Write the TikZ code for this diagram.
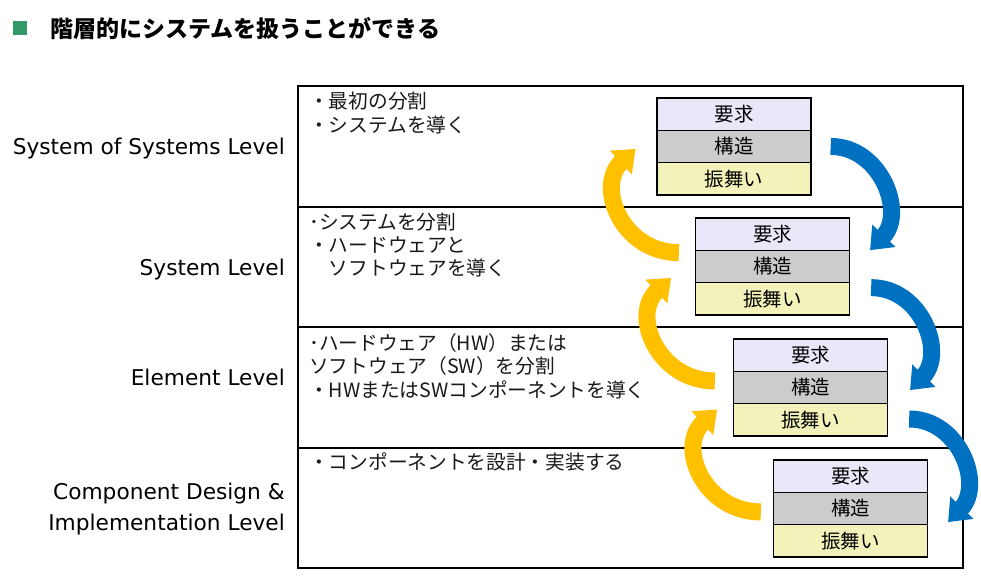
\documentclass[tikz,border=0pt]{standalone}
\usepackage{fontspec}
\newfontfamily\jp{Noto Sans CJK JP}
\newfontfamily\lat{DejaVu Sans}
\usetikzlibrary{arrows.meta,calc}
\definecolor{reqc}{RGB}{232,232,248}
\definecolor{strc}{RGB}{204,204,204}
\definecolor{behc}{RGB}{242,242,186}
\definecolor{bluec}{RGB}{0,112,192}
\definecolor{yelc}{RGB}{255,192,0}
\definecolor{titgreen}{RGB}{51,153,102}
\begin{document}
\begin{tikzpicture}[x=1pt,y=-1pt,
  rowbox/.style={draw=black,line width=1.3pt,minimum width=154pt,minimum height=32.3pt,inner sep=0pt,font=\jp\fontsize{19.5}{22}\selectfont},
  reqbox/.style={rowbox,fill=reqc},
  strbox/.style={rowbox,fill=strc},
  behbox/.style={rowbox,fill=behc},
  lvl/.style={anchor=base east,inner sep=0pt,font=\lat\fontsize{21.7}{26}\selectfont},
  body/.style={anchor=base west,inner sep=0pt,font=\jp\fontsize{19.7}{24}\selectfont,text=black!90},
  framel/.style={draw=black,line width=1.1pt},
  barrow/.style={draw=bluec,line width=17pt,line cap=butt,-{Triangle[length=20pt,width=31pt]}},
  yarrow/.style={draw=yelc,line width=17pt,line cap=butt,-{Triangle[length=20pt,width=31pt]}}]
\useasboundingbox (0,0) rectangle (981,580);
\fill[white] (0,0) rectangle (981,580);
% title
\node[fill=titgreen,minimum size=14pt,inner sep=0pt] (sq) at (20,28) {};
\node[anchor=base west,inner sep=0pt,font=\jp\bfseries\fontsize{23}{28}\selectfont] (title) at (50,37.5) {階層的にシステムを扱うことができる};
% frame
\draw[framel] (298,86) rectangle (963,568);
\draw[framel] (298,207) -- (963,207);
\draw[framel] (298,327) -- (963,327);
\draw[framel] (298,448) -- (963,448);
% level labels
\node[lvl] (l1) at (285,154.3) {System of Systems Level};
\node[lvl] (l2) at (285,275) {System Level};
\node[lvl] (l3) at (285,385.5) {Element Level};
\node[lvl] (l4a) at (285,499) {Component Design \&};
\node[lvl] (l4b) at (285,530) {Implementation Level};
% body texts
\node[body] (t1a) at (309,109) {・最初の分割};
\node[body] (t1b) at (309,132.5) {・システムを導く};
\node[body] (t2a) at (309,229.5) {･システムを分割};
\node[body] (t2b) at (309,252.5) {・ハードウェアと};
\node[body] (t2c) at (309,275.5) {　ソフトウェアを導く};
\node[body] (t3a) at (309,350) {･ハードウェア（HW）または};
\node[body] (t3b) at (309,373.5) {ソフトウェア（SW）を分割};
\node[body] (t3c) at (309,397) {・HWまたはSWコンポーネントを導く};
\node[body] (t4a) at (309,469.5) {・コンポーネントを設計・実装する};
% boxes
\node[reqbox] (b1a) at (734,114.15) {要求};
\node[strbox] (b1b) at (734,146.45) {構造};
\node[behbox] (b1c) at (734,178.75) {振舞い};
\node[reqbox] (b2a) at (772.5,234.15) {要求};
\node[strbox] (b2b) at (772.5,266.45) {構造};
\node[behbox] (b2c) at (772.5,298.75) {振舞い};
\node[reqbox] (b3a) at (810.5,355.15) {要求};
\node[strbox] (b3b) at (810.5,387.45) {構造};
\node[behbox] (b3c) at (810.5,419.75) {振舞い};
\node[reqbox] (b4a) at (850.5,476.15) {要求};
\node[strbox] (b4b) at (850.5,508.45) {構造};
\node[behbox] (b4c) at (850.5,540.75) {振舞い};
% blue arrows (down)
\draw[barrow] ($(b1b.east)+(19,0)$) .. controls +(50,0) and +(36,-37.5) .. ($(b2a.south east)+(19.9,-0.75)$);
\draw[barrow] ($(b2b.south east)+(21,4.4)$) .. controls +(50,0) and +(36,-37.5) .. ($(b3b.east)+(21.9,2.65)$);
\draw[barrow] ($(b3c.east)+(21,-0.75)$) .. controls +(50,0) and +(36,-37.5) .. ($(b4b.east)+(19.9,13.65)$);
% yellow arrows (up)
\draw[yarrow] ($(b2a.south west)+(-16,1.7)$) .. controls +(-56.6,0) and +(-40.7,37.5) .. ($(b1b.west)+(-20.8,2.5)$);
\draw[yarrow] ($(b3b.west)+(-18,-6.5)$) .. controls +(-56.6,0) and +(-40.7,37.5) .. ($(b2b.west)+(-23.8,11.5)$);
\draw[yarrow] ($(b4b.west)+(-12,3.5)$) .. controls +(-56.6,0) and +(-40.7,37.5) .. ($(b3b.south west)+(-15.8,5.3)$);
\end{tikzpicture}
\end{document}
